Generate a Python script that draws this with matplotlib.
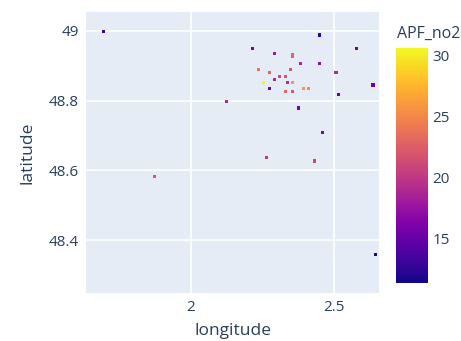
import numpy as np
import matplotlib.pyplot as plt

longitude = [1.697, 2.216, 2.449, 2.579, 2.291, 2.356, 2.356, 2.384, 2.449, 2.236,
             2.274, 2.347, 2.506, 2.309, 2.329, 2.255, 2.291, 2.338, 2.356, 2.274,
             2.394, 2.411, 2.329, 2.356, 2.635, 2.515, 2.125, 2.375, 2.458, 2.264,
             2.431, 1.875, 2.645]
latitude = [48.997, 48.950, 48.988, 48.950, 48.934, 48.933, 48.926, 48.907, 48.907, 48.888,
            48.880, 48.888, 48.880, 48.870, 48.870, 48.853, 48.861, 48.853, 48.853, 48.836,
            48.836, 48.836, 48.826, 48.826, 48.845, 48.817, 48.798, 48.779, 48.708, 48.637,
            48.627, 48.584, 48.360]
apf_no2 = [13, 16, 12.5, 15.5, 18, 23, 23, 18.5, 17, 24,
           23, 22, 19, 21, 22, 30.5, 19, 19.5, 26, 16,
           26, 25.5, 23, 22, 15.5, 15, 19, 16, 16, 20,
           21, 22, 12]

plt.rcParams['font.family'] = ['Open Sans', 'DejaVu Sans']
txt = '#2a3f5f'

fig = plt.figure(figsize=(4.61, 3.41), dpi=100)
ax = fig.add_axes([86 / 461, 1 - 293 / 341, 293 / 461, 281 / 341])
ax.set_facecolor('#e5ecf6')
sc = ax.scatter(longitude, latitude, c=apf_no2, cmap='plasma', vmin=11.4, vmax=30.6,
                marker='s', s=5, linewidths=0, zorder=3)
ax.set_xlim(1.635, 2.656)
ax.set_ylim(48.249, 49.054)
ax.set_xticks([2, 2.5])
ax.set_xticklabels(['2', '2.5'])
ax.set_yticks([48.4, 48.6, 48.8, 49])
ax.set_yticklabels(['48.4', '48.6', '48.8', '49'])
ax.grid(color='white', linewidth=1.2, zorder=0)
ax.set_axisbelow(True)
for s in ax.spines.values():
    s.set_visible(False)
ax.tick_params(length=0, labelsize=11, colors=txt, pad=5)
ax.set_xlabel('longitude', fontsize=12.5, color=txt, labelpad=6)
ax.set_ylabel('latitude', fontsize=12.5, color=txt, labelpad=10)

cax = fig.add_axes([396 / 461, 1 - 283 / 341, 32 / 461, 235 / 341])
cb = fig.colorbar(sc, cax=cax)
cb.outline.set_visible(False)
cb.set_ticks([15, 20, 25, 30])
cax.tick_params(length=0, labelsize=11, colors=txt, pad=3)
fig.text(397 / 461, 1 - 38 / 341, 'APF_no2', fontsize=11.5, color=txt)

fig.savefig('out.png', dpi=100)
